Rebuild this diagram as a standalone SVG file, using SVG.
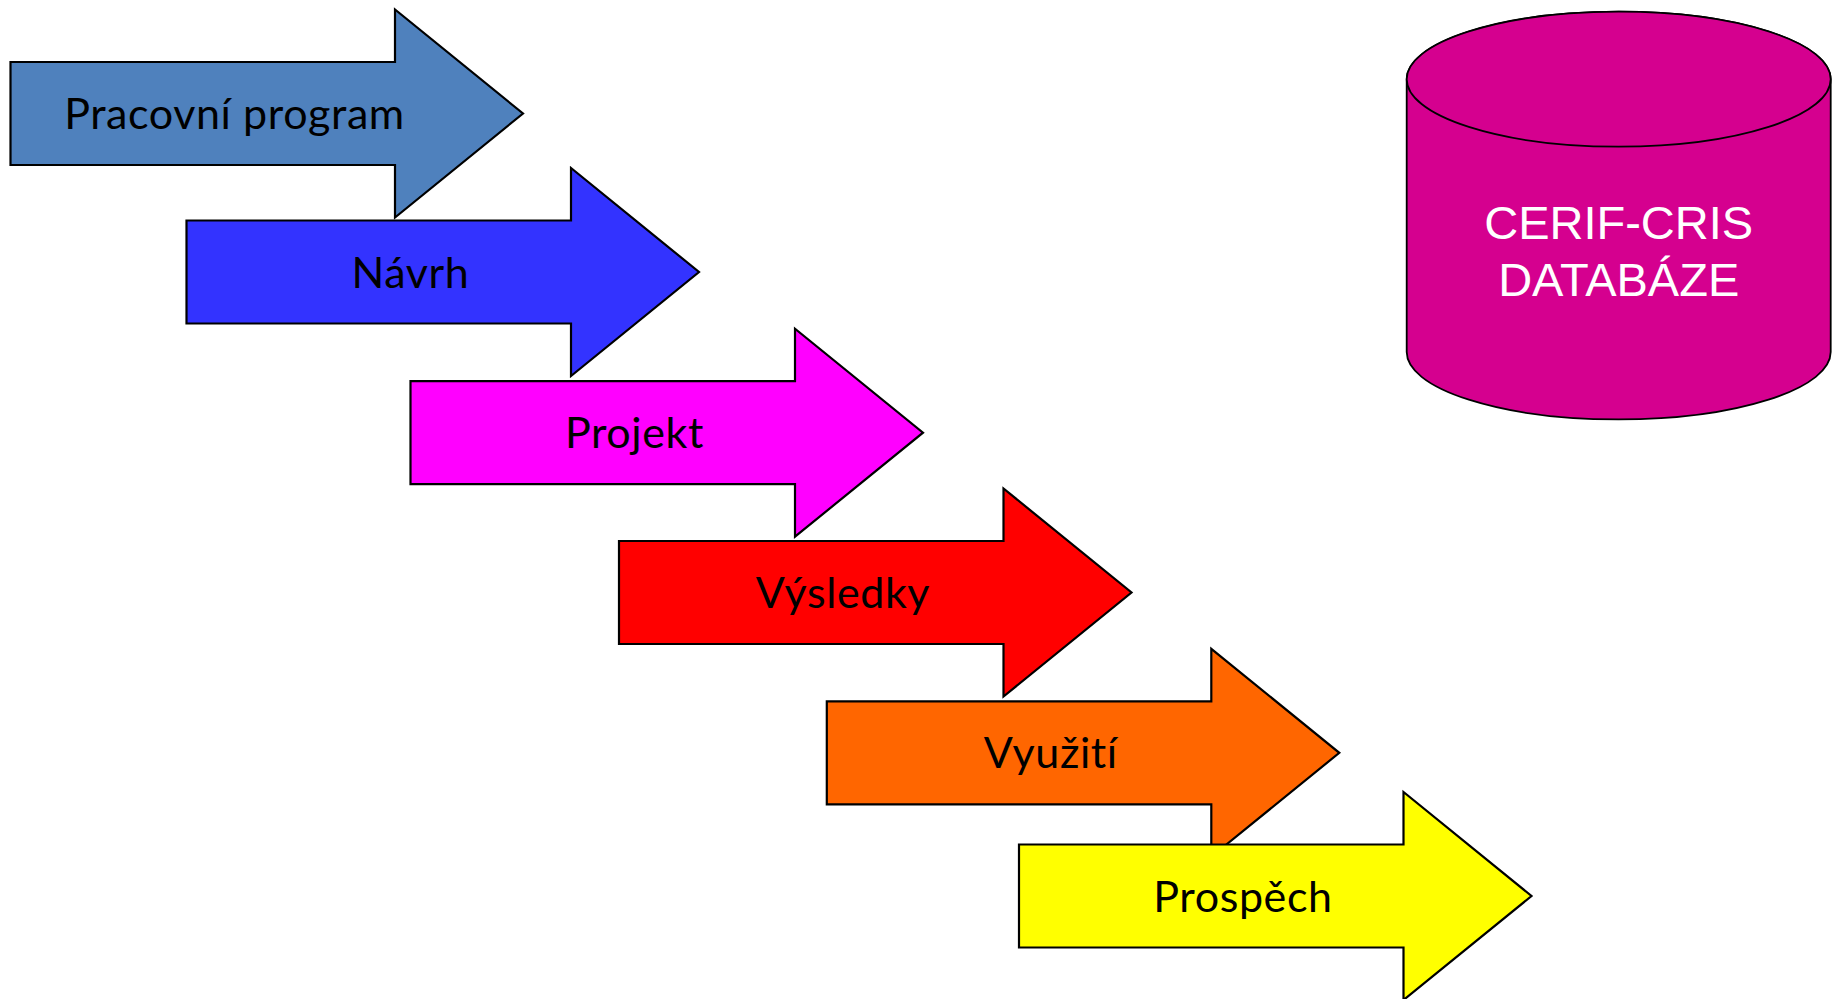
<svg xmlns="http://www.w3.org/2000/svg" width="1839" height="999" viewBox="0 0 1839 999">
<style>
.arrow{stroke:#000;stroke-width:2.2;stroke-linejoin:miter}
.lbl{font-family:Lato,"Open Sans","Noto Sans",sans-serif;font-size:43px;letter-spacing:0.6px;fill:#000;text-anchor:middle}
.db{fill:#D5008F;stroke:#000;stroke-width:1.8}
.dbt{font-family:"Liberation Sans",Arial,sans-serif;font-size:47px;fill:#fff;text-anchor:middle}
</style>
<rect width="1839" height="999" fill="#fff"/>
<defs>
<path id="arr" d="M0,-51.5 H384.5 V-104 L512.5,0 L384.5,104 V51.5 H0 Z"/>
</defs>
<g id="connectors"></g>
<g id="n1" transform="translate(10.5,113.5)">
<use href="#arr" class="arrow" fill="#4F81BD"/>
<text class="lbl" x="224" y="15.5">Pracovní program</text>
</g>
<g id="n2" transform="translate(186.5,272)">
<use href="#arr" class="arrow" fill="#3333FF"/>
<text class="lbl" x="224" y="15.5">Návrh</text>
</g>
<g id="n3" transform="translate(410.5,432.7)">
<use href="#arr" class="arrow" fill="#FF00FF"/>
<text class="lbl" x="224" y="15.5">Projekt</text>
</g>
<g id="n4" transform="translate(619,592.5)">
<use href="#arr" class="arrow" fill="#FF0000"/>
<text class="lbl" x="224" y="15.5">Výsledky</text>
</g>
<g id="n5" transform="translate(826.8,752.8)">
<use href="#arr" class="arrow" fill="#FF6600"/>
<text class="lbl" x="224" y="15.5">Využití</text>
</g>
<g id="n6" transform="translate(1019,896)">
<use href="#arr" class="arrow" fill="#FFFF00"/>
<text class="lbl" x="224" y="15.5">Prospěch</text>
</g>
<g id="db">
<path class="db" d="M1406.7,79.2 V352 A212,67.5 0 0 0 1830.7,352 V79.2 A212,67.5 0 0 0 1406.7,79.2 Z"/>
<ellipse class="db" cx="1618.7" cy="79.2" rx="212" ry="67.5"/>
<text class="dbt" x="1618.7" y="238.5">CERIF-CRIS</text>
<text class="dbt" x="1618.7" y="295.7">DATABÁZE</text>
</g>
</svg>
